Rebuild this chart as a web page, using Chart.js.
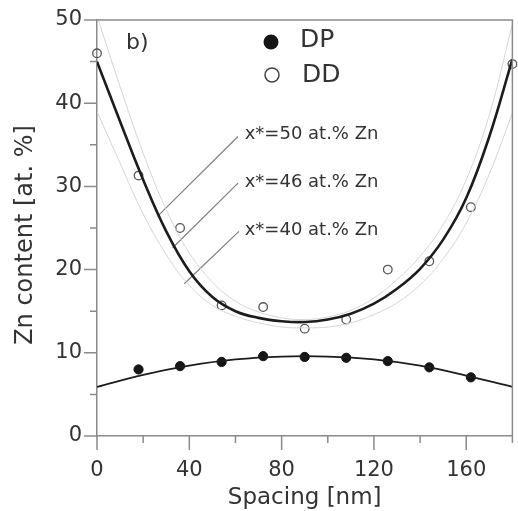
<!DOCTYPE html>
<html><head><meta charset="utf-8">
<script src="https://cdn.jsdelivr.net/npm/chart.js@4"></script>
<style>html,body{margin:0;padding:0;background:#fff;}</style>
</head><body>
<canvas id="c" width="518" height="511"></canvas>
<script>
// ---- data ----
const ddX = [0, 18, 36, 54, 72, 90, 108, 126, 144, 162, 180];
const ddY = [46.0, 31.3, 25.0, 15.7, 15.5, 12.9, 14.0, 20.0, 21.0, 27.5, 44.7];
const dpX = [18, 36, 54, 72, 90, 108, 126, 144, 162];
const dpY = [8.0, 8.4, 8.9, 9.6, 9.5, 9.4, 9.0, 8.25, 7.05];

const fitX  = [0, 10, 20, 30, 40, 50, 60, 70, 80, 90, 100, 110, 120, 130, 140, 150, 160, 170, 180];
const fit46 = [45.0, 37.8, 30.8, 24.6, 19.8, 16.7, 15.0, 14.2, 13.8, 13.7, 14.0, 14.7, 15.9, 17.7, 20.1, 23.6, 28.6, 36.0, 45.3];
const fit50 = [50.5, 42.0, 34.0, 27.2, 22.0, 18.5, 16.2, 14.9, 14.2, 14.0, 14.3, 15.1, 16.6, 18.8, 21.6, 25.4, 30.8, 38.6, 49.5];
const fit40 = [39.0, 32.8, 26.7, 21.8, 18.1, 15.7, 14.4, 13.6, 13.1, 13.0, 13.1, 13.6, 14.6, 16.0, 18.2, 21.3, 25.6, 31.5, 38.8];

const dpFitX = [0, 20, 40, 60, 80, 100, 120, 140, 160, 180];
const dpFitY = [5.9, 7.35, 8.45, 9.2, 9.55, 9.55, 9.2, 8.45, 7.25, 5.9];

const noteLabels = ['x*=50 at.% Zn', 'x*=46 at.% Zn', 'x*=40 at.% Zn'];
const noteStartX = [61.1, 61.1, 61.5];
const noteStartY = [36.0, 30.4, 24.6];
const noteEndX   = [26.2, 32.7, 37.8];
const noteEndY   = [26.4, 22.6, 18.3];
const noteTextX  = 64;
const noteTextY  = [36.2, 30.5, 24.7];

const seriesNames = ['DP', 'DD'];
const xTitle = 'Spacing [nm]';
const yTitle = 'Zn content [at. %]';
const panelLabel = 'b)';

const FONT = 'DejaVu Sans';
const TXT = '#333333';
const AX = '#8a8a8a';

const pts = (xs, ys) => xs.map((x, i) => ({x: x, y: ys[i]}));
const curve = (xs, ys, color, w) => ({data: pts(xs, ys), showLine: true, borderColor: color, borderWidth: w,
  pointRadius: 0, pointHoverRadius: 0, tension: 0.4, fill: false});

const datasets = [
  curve(fitX, fit50, '#d6d6d6', 1),
  curve(fitX, fit40, '#d6d6d6', 1),
  curve(fitX, fit46, '#1c1c1c', 2.6),
  curve(dpFitX, dpFitY, '#1c1c1c', 1.8)
];
for (let i = 0; i < noteLabels.length; i++) {
  datasets.push({data: [{x: noteStartX[i], y: noteStartY[i]}, {x: noteEndX[i], y: noteEndY[i]}],
    showLine: true, borderColor: '#7f7f7f', borderWidth: 1.2, pointRadius: 0, tension: 0});
}
datasets.push({label: seriesNames[1], data: pts(ddX, ddY), showLine: false, pointRadius: 4.3,
  pointBackgroundColor: 'rgba(0,0,0,0)', pointBorderColor: '#555', pointBorderWidth: 1.3, clip: false});
datasets.push({label: seriesNames[0], data: pts(dpX, dpY), showLine: false, pointRadius: 4.6,
  pointBackgroundColor: '#151515', pointBorderColor: '#151515', pointBorderWidth: 1});

const deco = {
  id: 'deco',
  afterDraw(chart) {
    const ctx = chart.ctx, xs = chart.scales.x, ys = chart.scales.y, a = chart.chartArea;
    ctx.save();
    ctx.strokeStyle = AX; ctx.lineWidth = 1.5;
    ctx.beginPath();
    ctx.moveTo(a.left, a.top); ctx.lineTo(a.right, a.top); ctx.lineTo(a.right, a.bottom);
    ctx.stroke();
    ctx.beginPath();
    ys.ticks.forEach(t => {
      const p = ys.getPixelForValue(t.value);
      const len = (t.value % 10 === 0) ? 13 : 7;
      ctx.moveTo(a.left - len, p); ctx.lineTo(a.left, p);
    });
    xs.ticks.forEach(t => {
      const p = xs.getPixelForValue(t.value);
      const len = (t.value % 40 === 0) ? 14 : 7;
      ctx.moveTo(p, a.bottom); ctx.lineTo(p, a.bottom + len);
    });
    ctx.stroke();
    ctx.fillStyle = TXT;
    ctx.font = '18px "' + FONT + '"';
    ctx.textAlign = 'left'; ctx.textBaseline = 'middle';
    noteLabels.forEach((s, i) => ctx.fillText(s, xs.getPixelForValue(noteTextX), ys.getPixelForValue(noteTextY[i])));
    ctx.font = '22px "' + FONT + '"';
    ctx.fillText(panelLabel, a.left + 29, a.top + 23);
    const lx = a.left + 174;
    ctx.beginPath(); ctx.arc(lx, a.top + 22, 7.5, 0, Math.PI * 2); ctx.fillStyle = '#151515'; ctx.fill();
    ctx.beginPath(); ctx.arc(lx + 1, a.top + 55, 7, 0, Math.PI * 2); ctx.strokeStyle = '#444'; ctx.lineWidth = 1.5; ctx.stroke();
    ctx.fillStyle = TXT; ctx.font = '25px "' + FONT + '"';
    ctx.fillText(seriesNames[0], lx + 29, a.top + 20);
    ctx.fillText(seriesNames[1], lx + 31, a.top + 55);
    ctx.font = '23px "' + FONT + '"';
    ctx.textAlign = 'center'; ctx.textBaseline = 'alphabetic';
    ctx.fillText(xTitle, (a.left + a.right) / 2, 504);
    ctx.save();
    ctx.translate(31.5, 235); ctx.rotate(-Math.PI / 2);
    ctx.font = '24px "' + FONT + '"';
    ctx.fillText(yTitle, 0, 0);
    ctx.restore();
    ctx.restore();
  }
};

new Chart(document.getElementById('c'), {
  type: 'scatter',
  data: {datasets: datasets},
  plugins: [deco],
  options: {
    responsive: false, animation: false, devicePixelRatio: 1,
    layout: {padding: {top: 20, right: 4, bottom: 0, left: 0}},
    plugins: {legend: {display: false}, tooltip: {enabled: false}},
    scales: {
      x: {
        type: 'linear', min: 0, max: 180,
        ticks: {stepSize: 20, autoSkip: false, maxRotation: 0, padding: 22, color: TXT,
          font: {family: FONT, size: 21}, callback: v => (v % 40 === 0 ? String(v) : '')},
        grid: {display: false, drawTicks: false},
        border: {display: true, color: AX, width: 1.5},
        afterFit: s => { s.height = 75; s.paddingLeft = 0; s.paddingRight = 0; }
      },
      y: {
        type: 'linear', min: 0, max: 50,
        ticks: {stepSize: 5, autoSkip: false, padding: 15, color: TXT,
          font: {family: FONT, size: 21}, callback: v => (v % 10 === 0 ? String(v) : '')},
        grid: {display: false, drawTicks: false},
        border: {display: true, color: AX, width: 1.5},
        afterFit: s => { s.width = 97; s.paddingTop = 0; s.paddingBottom = 0; }
      }
    }
  }
});
</script>
</body></html>
